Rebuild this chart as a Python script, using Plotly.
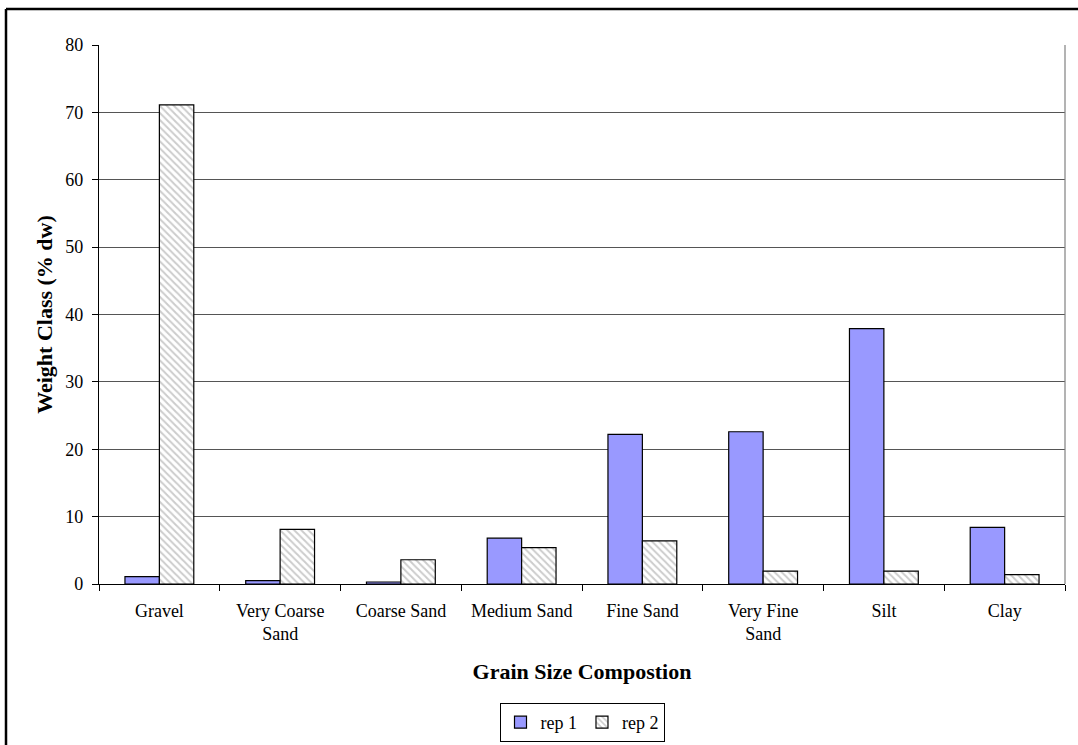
import plotly.graph_objects as go

categories = ["Gravel", "Very Coarse<br>Sand", "Coarse Sand", "Medium Sand",
              "Fine Sand", "Very Fine<br>Sand", "Silt", "Clay"]
rep1 = [1.1, 0.5, 0.3, 6.8, 22.2, 22.6, 37.9, 8.4]
rep2 = [71.1, 8.1, 3.6, 5.4, 6.4, 1.9, 1.9, 1.4]
y_ticks = [0, 10, 20, 30, 40, 50, 60, 70, 80]

W, H = 1078, 745
ML, MR, MT, MB = 99, 13, 45, 161
PW, PH = W - ML - MR, H - MT - MB

font = "Liberation Serif, Times New Roman, serif"

fig = go.Figure()
fig.add_trace(go.Bar(
    name="rep 1", x=categories, y=rep1,
    marker=dict(color="#9999FF", line=dict(color="black", width=1.2)),
))
fig.add_trace(go.Bar(
    name="rep 2", x=categories, y=rep2,
    marker=dict(color="white", line=dict(color="black", width=1.2),
                pattern=dict(shape="\\", fgcolor="#9a9a9a", bgcolor="white",
                             size=5, solidity=0.4)),
))


def px_to_paper_x(px):
    return (px - ML) / PW


def px_to_paper_y(py):
    return (H - MB - py) / PH


shapes = [
    # outer chart frame (top and left edges visible)
    dict(type="line", xref="paper", yref="paper",
         x0=px_to_paper_x(6), x1=px_to_paper_x(1090),
         y0=px_to_paper_y(9), y1=px_to_paper_y(9),
         line=dict(color="black", width=2.5)),
    dict(type="line", xref="paper", yref="paper",
         x0=px_to_paper_x(6), x1=px_to_paper_x(6),
         y0=px_to_paper_y(9), y1=px_to_paper_y(760),
         line=dict(color="black", width=2.5)),
    # plot area right edge
    dict(type="line", xref="paper", yref="paper",
         x0=1, x1=1, y0=0, y1=1,
         line=dict(color="#808080", width=1.2)),
]

fig.update_layout(
    width=W, height=H,
    margin=dict(l=ML, r=MR, t=MT, b=MB, autoexpand=False),
    paper_bgcolor="white", plot_bgcolor="white",
    barmode="group", bargap=0.43, bargroupgap=0,
    font=dict(family=font, size=18, color="black"),
    shapes=shapes,
    showlegend=True,
    legend=dict(orientation="h", x=0.5, xanchor="center",
                xref="paper", yref="container",
                y=1 - 703 / H, yanchor="top",
                bordercolor="black", borderwidth=1, bgcolor="white",
                font=dict(family=font, size=18), itemwidth=30,
                tracegroupgap=0),
)

fig.update_xaxes(
    tickson="boundaries", ticks="outside", ticklen=6, tickcolor="black",
    showline=True, linecolor="black", linewidth=1.2,
    tickfont=dict(family=font, size=18), ticklabelstandoff=10,
    automargin=False,
    title=dict(text="<b>Grain Size Compostion</b>",
               font=dict(family=font, size=22), standoff=20),
)
fig.update_yaxes(
    range=[0, 80], tickvals=y_ticks, ticks="outside", ticklen=6,
    tickcolor="black",
    showline=True, linecolor="black", linewidth=1.2,
    showgrid=True, gridcolor="#555555", gridwidth=1,
    tickfont=dict(family=font, size=18), ticklabelstandoff=5,
    automargin=False,
    title=dict(text="<b>Weight Class (% dw)</b>",
               font=dict(family=font, size=22), standoff=6),
    zeroline=False,
)

fig.write_html("out.html")
